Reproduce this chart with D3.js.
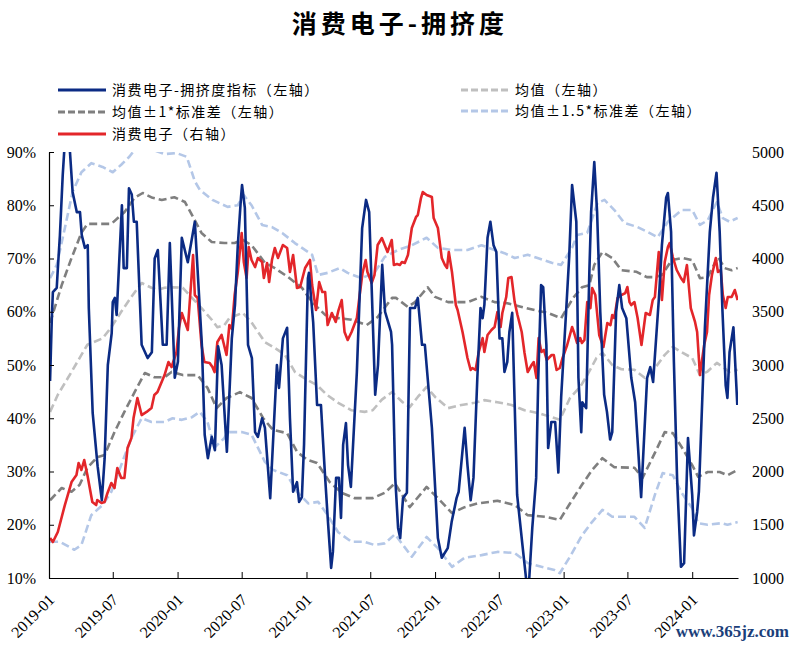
<!DOCTYPE html>
<head>
<meta charset="utf-8">
<style>
    body { margin: 0; background: #fff; }
    .legend text { font-family: "Noto Sans CJK SC", sans-serif; font-size: 14px; letter-spacing: 1.5px; fill: #000; }
</style>
<title>消费电子-拥挤度</title>
</head>
<body>
<script src="https://d3js.org/d3.v7.min.js"></script>
<script>
// 拥挤度指标 (左轴, %)
const crowding = [
 ["2019-01-04",47],["2019-01-09",58.8],["2019-01-12",63.7],["2019-01-23",64.5],["2019-01-26",68],["2019-02-01",74.4],
 ["2019-02-09",85.7],["2019-02-15",92],["2019-02-23",93],["2019-03-01",90.5],["2019-03-09",82.5],["2019-03-21",78.7],
 ["2019-03-30",78.7],["2019-04-04",74.4],["2019-04-13",72],["2019-04-21",72.5],["2019-04-24",60.7],["2019-05-05",41],
 ["2019-05-19",31],["2019-05-31",24.6],["2019-06-08",32.5],["2019-06-17",50],["2019-06-28",56],["2019-07-01",61.8],
 ["2019-07-07",62.6],["2019-07-12",59.4],["2019-07-27",80],["2019-08-01",68.2],["2019-08-10",68.2],["2019-08-16",83.2],
 ["2019-08-24",82],["2019-08-30",76.9],["2019-09-07",76.9],["2019-09-21",53.8],["2019-10-08",51.3],["2019-10-20",52.4],
 ["2019-10-28",70],["2019-11-06",71.6],["2019-11-20",53.8],["2019-12-01",53.8],["2019-12-10",72.9],["2019-12-24",47.6],
 ["2020-01-02",50.6],["2020-01-13",73.9],["2020-01-30",69.3],["2020-02-19",76.9],["2020-03-10",53.8],["2020-03-18",36.9],
 ["2020-03-27",32.5],["2020-04-07",36.5],["2020-04-16",34],["2020-04-25",53.5],["2020-05-05",50],["2020-05-20",33.7],
 ["2020-06-03",55],["2020-06-12",61.3],["2020-06-20",72.5],["2020-06-29",81.4],["2020-07-02",83.8],["2020-07-10",79.5],
 ["2020-07-19",53.8],["2020-07-30",51.3],["2020-08-08",37.4],["2020-08-16",36.5],["2020-08-28",40],["2020-09-05",38.2],
 ["2020-09-20",25],["2020-10-09",50],["2020-10-15",45.7],["2020-10-26",55],["2020-11-07",57],["2020-11-15",40],
 ["2020-11-24",26.2],["2020-12-05",28],["2020-12-11",24.3],["2020-12-19",25.2],["2020-12-25",35],["2021-01-05",66.3],
 ["2021-01-08",67.3],["2021-01-20",58],["2021-01-31",42.5],["2021-02-11",42.5],["2021-02-23",28.8],["2021-03-03",20.5],
 ["2021-03-12",11.9],["2021-03-17",14.9],["2021-03-26",28.8],["2021-04-03",28.8],["2021-04-09",21.3],["2021-04-15",35],
 ["2021-04-23",39.1],["2021-04-29",31.2],["2021-05-07",27.1],["2021-05-24",48.7],["2021-06-08",75.7],["2021-06-19",81],
 ["2021-06-28",78.7],["2021-07-06",62.6],["2021-07-15",44.4],["2021-07-23",50],["2021-08-04",68.8],["2021-08-12",60],
 ["2021-08-21",58],["2021-08-29",56.2],["2021-09-01",53.8],["2021-09-10",28.8],["2021-09-18",19.4],["2021-09-24",17.5],
 ["2021-10-02",25],["2021-10-13",26],["2021-10-22",60.7],["2021-11-05",60.7],["2021-11-13",62.6],["2021-11-25",53.8],
 ["2021-12-03",53.8],["2021-12-23",38.2],["2022-01-09",17.5],["2022-01-20",13.8],["2022-02-06",15.6],["2022-02-17",20.5],
 ["2022-03-03",25],["2022-03-09",26.2],["2022-03-26",38.2],["2022-04-03",31.2],["2022-04-12",24.6],["2022-04-20",28.8],
 ["2022-05-01",47.6],["2022-05-10",60.7],["2022-05-16",58.8],["2022-05-21",61.3],["2022-05-30",73.9],["2022-06-07",76.9],
 ["2022-06-16",72.5],["2022-06-24",71.2],["2022-07-03",55],["2022-07-11",55],["2022-07-17",48.7],["2022-07-25",50.6],
 ["2022-07-31",56.2],["2022-08-08",59.8],["2022-08-22",25.6],["2022-09-06",16.2],["2022-09-17",9.5],["2022-09-25",9.5],
 ["2022-10-04",19.4],["2022-10-15",28.8],["2022-10-21",47.6],["2022-10-29",65],["2022-11-04",64.6],["2022-11-13",53.8],
 ["2022-11-18",34.4],["2022-11-27",39.3],["2022-12-08",39.3],["2022-12-17",29.8],["2022-12-25",44],["2023-01-08",60],
 ["2023-01-17",70.6],["2023-01-25",83.8],["2023-02-06",76.9],["2023-02-12",47.6],["2023-02-20",37.4],["2023-02-23",43],
 ["2023-03-06",41.9],["2023-03-15",67.5],["2023-03-20",78.7],["2023-03-29",88.1],["2023-04-06",78.7],["2023-04-15",60],
 ["2023-04-26",44.4],["2023-05-04",41.2],["2023-05-13",36],["2023-05-19",37.4],["2023-05-30",60],["2023-06-08",65],
 ["2023-06-16",60.7],["2023-06-28",58.8],["2023-07-12",47.6],["2023-07-23",43],["2023-08-01",33.7],["2023-08-09",25.2],
 ["2023-08-26",47.6],["2023-09-04",49.6],["2023-09-12",46.8],["2023-09-29",63.1],["2023-10-07",72.5],["2023-10-19",81.4],
 ["2023-10-24",82.3],["2023-11-02",75],["2023-11-10",50.6],["2023-11-19",28.8],["2023-11-30",12.1],["2023-12-09",12.8],
 ["2023-12-20",36.3],["2024-01-01",25.6],["2024-01-06",18],["2024-01-15",22.4],["2024-01-20",26.2],["2024-02-06",57],
 ["2024-02-20",75],["2024-02-29",81.4],["2024-03-10",86.1],["2024-03-19",75],["2024-03-27",60],["2024-04-05",46.2],
 ["2024-04-10",43.8],["2024-04-16",52.4],["2024-04-27",57.1],["2024-05-08",42.5]
];

// 消费电子指数 (右轴)
const indexClose = [
 ["2019-01-04",1375],["2019-01-12",1338],["2019-01-26",1432],["2019-02-15",1685],["2019-03-06",1901],["2019-03-20",1967],
 ["2019-03-26",2080],["2019-04-03",2014],["2019-04-11",2108],["2019-04-20",1967],["2019-05-04",1714],["2019-05-15",1685],
 ["2019-05-18",1732],["2019-05-30",1704],["2019-06-08",1714],["2019-06-16",1798],["2019-06-27",1892],["2019-07-06",1845],
 ["2019-07-14",2033],["2019-07-25",1939],["2019-08-03",1939],["2019-08-12",2221],["2019-08-23",2314],["2019-08-29",2502],
 ["2019-09-09",2690],["2019-09-21",2530],["2019-10-05",2559],["2019-10-19",2596],["2019-10-27",2718],["2019-11-05",2746],
 ["2019-11-25",2906],["2019-12-06",3028],["2019-12-15",2981],["2019-12-29",3122],["2020-01-05",3347],["2020-01-13",3488],
 ["2020-01-22",3404],["2020-01-30",3329],["2020-02-14",4033],["2020-02-19",3657],["2020-02-27",3629],["2020-03-09",3188],
 ["2020-03-17",3028],["2020-04-01",3019],["2020-04-09",2981],["2020-04-15",2934],["2020-04-23",3216],["2020-05-05",3282],
 ["2020-05-19",3094],["2020-05-27",3375],["2020-06-03",3340],["2020-06-11",3657],["2020-06-20",3873],["2020-07-01",4239],
 ["2020-07-07",3967],["2020-07-15",3817],["2020-07-21",4108],["2020-07-29",3986],["2020-08-08",3920],["2020-08-16",4005],
 ["2020-08-28",3967],["2020-09-02",3817],["2020-09-11",3958],["2020-09-17",3779],["2020-09-25",3986],["2020-10-03",4099],
 ["2020-10-12",4005],["2020-10-26",4127],["2020-11-07",4099],["2020-11-15",3873],["2020-11-24",4033],["2020-12-05",3723],
 ["2020-12-14",3732],["2020-12-28",3911],["2021-01-11",3986],["2021-01-17",3751],["2021-01-28",3516],["2021-02-06",3779],
 ["2021-02-15",3685],["2021-02-23",3685],["2021-03-02",3375],["2021-03-14",3488],["2021-03-25",3404],["2021-04-02",3516],
 ["2021-04-11",3610],["2021-04-19",3310],["2021-04-28",3235],["2021-05-09",3310],["2021-05-24",3441],["2021-06-01",3657],
 ["2021-06-09",3864],["2021-06-18",3986],["2021-06-23",3873],["2021-07-05",3770],["2021-07-13",3845],["2021-07-22",4127],
 ["2021-08-03",4192],["2021-08-11",4127],["2021-08-19",4061],["2021-08-31",4174],["2021-09-06",3939],["2021-09-15",3948],
 ["2021-09-23",3939],["2021-09-29",3967],["2021-10-07",3958],["2021-10-16",4033],["2021-10-27",4286],["2021-11-08",4390],
 ["2021-11-13",4408],["2021-11-22",4568],["2021-11-27",4624],["2021-12-08",4596],["2021-12-23",4577],["2021-12-28",4380],
 ["2022-01-09",4286],["2022-01-20",4005],["2022-01-29",3939],["2022-02-04",3911],["2022-02-09",4061],["2022-02-18",3873],
 ["2022-03-01",3563],["2022-03-06",3516],["2022-03-20",3310],["2022-04-03",3066],["2022-04-12",2953],["2022-04-17",2972],
 ["2022-04-26",2953],["2022-05-05",3122],["2022-05-16",3253],["2022-05-21",3122],["2022-05-30",3282],["2022-06-10",3329],
 ["2022-06-19",3357],["2022-06-27",3498],["2022-07-06",3357],["2022-07-11",3488],["2022-07-22",3638],["2022-07-28",3817],
 ["2022-08-06",3826],["2022-08-15",3591],["2022-08-23",3470],["2022-09-04",3310],["2022-09-12",3113],["2022-09-21",2934],
 ["2022-10-02",3000],["2022-10-08",3028],["2022-10-16",2878],["2022-10-22",3253],["2022-10-30",3122],["2022-11-06",3141],
 ["2022-11-14",3047],["2022-11-28",3094],["2022-12-04",3094],["2022-12-12",2953],["2022-12-21",2972],["2022-12-29",3066],
 ["2023-01-11",3188],["2023-01-25",3357],["2023-01-31",3300],["2023-02-08",3207],["2023-02-17",3253],["2023-02-22",3207],
 ["2023-03-01",3235],["2023-03-09",3591],["2023-03-18",3535],["2023-03-23",3723],["2023-04-01",3657],["2023-04-12",3282],
 ["2023-04-24",3169],["2023-05-05",3394],["2023-05-14",3375],["2023-05-19",3470],["2023-05-25",3441],["2023-06-03",3629],
 ["2023-06-14",3657],["2023-06-25",3676],["2023-07-01",3732],["2023-07-07",3591],["2023-07-12",3563],["2023-07-21",3591],
 ["2023-07-30",3441],["2023-08-10",3188],["2023-08-22",3488],["2023-09-03",3470],["2023-09-11",3610],["2023-09-17",3638],
 ["2023-09-28",4061],["2023-10-07",3610],["2023-10-15",3967],["2023-10-24",4108],["2023-10-29",4145],["2023-11-07",4014],
 ["2023-11-18",3892],["2023-11-30",3817],["2023-12-08",3779],["2023-12-17",3939],["2023-12-28",3535],["2024-01-09",3404],
 ["2024-01-15",3310],["2024-01-23",2906],["2024-02-04",3188],["2024-02-12",3310],["2024-02-18",3657],["2024-02-26",3845],
 ["2024-03-08",4005],["2024-03-14",3873],["2024-03-22",3892],["2024-03-28",3657],["2024-04-05",3535],["2024-04-11",3638],
 ["2024-04-22",3638],["2024-05-01",3704],["2024-05-09",3610]
];

// 均值 (左轴, %)
const meanLine = [
 ["2019-01-04",41.2],["2019-01-26",44.4],["2019-03-06",48.7],["2019-04-03",51.9],["2019-04-20",53.8],["2019-06-02",55],
 ["2019-06-27",57.1],["2019-07-25",60],["2019-08-23",62.8],["2019-09-21",65.4],["2019-10-19",64.5],["2019-11-05",64.1],
 ["2019-11-25",64.5],["2019-12-18",64.6],["2020-01-16",64.5],["2020-02-11",62.6],["2020-03-09",60.7],["2020-04-07",58.5],
 ["2020-04-23",57.1],["2020-05-13",57.5],["2020-05-27",58.8],["2020-07-04",59.8],["2020-07-29",58],["2020-09-05",54.3],
 ["2020-10-03",53.2],["2020-11-01",51.9],["2020-11-29",48.7],["2021-01-03",47.2],["2021-01-31",46.2],["2021-02-28",44.4],
 ["2021-04-01",42.9],["2021-05-09",41.5],["2021-06-15",41.2],["2021-07-08",41.5],["2021-08-03",43.5],["2021-09-01",44.9],
 ["2021-10-01",43],["2021-10-21",42.1],["2021-11-13",44],["2021-12-08",45.9],["2022-01-01",44],["2022-02-07",41.9],
 ["2022-03-17",42.5],["2022-04-24",42.9],["2022-05-21",43.4],["2022-06-27",43],["2022-08-06",42.5],["2022-09-12",41.5],
 ["2022-10-19",41],["2022-11-28",40.2],["2022-12-21",39.7],["2023-01-19",43.8],["2023-02-17",45.9],["2023-03-09",48.1],
 ["2023-04-04",51.3],["2023-04-21",52.3],["2023-05-19",50],["2023-06-14",49.2],["2023-07-21",49.1],["2023-08-19",47.6],
 ["2023-09-17",49.4],["2023-10-15",51.9],["2023-11-07",53.4],["2023-12-02",52.4],["2024-01-01",51.3],["2024-01-23",48.1],
 ["2024-02-12",48.7],["2024-03-11",50.4],["2024-04-02",49.4],["2024-04-16",48.7],["2024-05-09",49.1]
];

// 均值 ± 1*标准差
const upper1 = [
 ["2019-01-04",57.9],["2019-02-06",65],["2019-03-06",70.1],["2019-04-03",74.8],["2019-04-20",76.5],["2019-06-27",76.5],
 ["2019-08-03",78.7],["2019-09-01",81.4],["2019-09-24",82.3],["2019-10-22",81.4],["2019-11-17",81],["2019-12-23",81.5],
 ["2020-01-22",80.6],["2020-02-14",77.8],["2020-03-09",74.8],["2020-04-07",73.1],["2020-05-13",72.9],["2020-06-11",72.9],
 ["2020-07-04",73.5],["2020-07-29",72.5],["2020-09-05",69.2],["2020-10-03",68.2],["2020-11-10",66.5],["2020-12-19",64.5],
 ["2021-01-17",61.8],["2021-02-23",59.4],["2021-04-01",58.8],["2021-05-09",58.5],["2021-06-21",57.5],["2021-07-22",59],
 ["2021-09-01",62.6],["2021-09-12",62.6],["2021-10-16",60.9],["2021-11-05",61.8],["2021-12-11",64.6],["2022-01-01",62.8],
 ["2022-02-07",61.8],["2022-04-03",61.8],["2022-05-13",62.8],["2022-06-19",61.8],["2022-07-25",61.6],["2022-09-04",60.9],
 ["2022-10-11",60.3],["2022-11-16",59.8],["2022-12-25",58.8],["2023-01-28",62.6],["2023-02-22",64.6],["2023-03-15",65],
 ["2023-03-29",68.8],["2023-04-21",71.2],["2023-05-19",70.1],["2023-06-14",67.8],["2023-07-27",67.5],["2023-08-25",66.5],
 ["2023-09-17",66.5],["2023-10-07",66.9],["2023-11-04",69.7],["2023-12-05",70.1],["2024-01-01",69.7],["2024-01-23",66.3],
 ["2024-02-14",66.5],["2024-03-14",70.3],["2024-04-02",68.2],["2024-04-22",67.8],["2024-05-09",68.2]
];
const lower1 = [
 ["2019-01-04",24.6],["2019-02-06",26.9],["2019-03-06",26.2],["2019-03-29",27.5],["2019-04-20",30.7],["2019-05-18",32.7],
 ["2019-06-08",33.1],["2019-07-06",37.4],["2019-08-03",41.2],["2019-09-01",44.9],["2019-09-30",48.5],["2019-10-27",47.7],
 ["2019-11-25",47.7],["2019-12-15",48.7],["2020-01-16",48.1],["2020-02-27",48.1],["2020-03-26",45.7],["2020-04-21",41.9],
 ["2020-05-19",43.8],["2020-06-26",44.9],["2020-07-29",43.8],["2020-08-31",40],["2020-09-28",37.8],["2020-11-07",37.2],
 ["2020-12-05",33.7],["2021-01-03",32.2],["2021-01-31",31.6],["2021-03-08",28],["2021-04-11",26],["2021-05-17",25],
 ["2021-07-08",25],["2021-08-11",26],["2021-09-09",27.8],["2021-10-21",23.3],["2021-12-08",27.1],["2022-01-09",25],
 ["2022-02-18",22.2],["2022-03-26",23.3],["2022-05-02",24],["2022-06-27",24.5],["2022-08-15",23.7],["2022-09-21",21.8],
 ["2022-11-09",21.5],["2022-12-21",20.9],["2023-01-19",24],["2023-02-22",27.5],["2023-03-23",30.3],["2023-04-21",32.5],
 ["2023-05-25",30.8],["2023-07-21",30.7],["2023-08-13",28.8],["2023-09-17",33.5],["2023-10-15",37.4],["2023-11-07",37.2],
 ["2023-12-02",34.6],["2024-01-01",31.2],["2024-01-18",29],["2024-02-14",29.9],["2024-03-19",29.9],["2024-04-10",29.3],
 ["2024-05-09",30.3]
];

// 均值 ± 1.5*标准差
const upper15 = [
 ["2019-01-04",66.3],["2019-01-23",68.8],["2019-02-15",75.7],["2019-03-09",82.5],["2019-04-03",86.2],["2019-05-01",87.9],
 ["2019-06-02",87.2],["2019-07-01",86.2],["2019-07-25",87.6],["2019-08-17",89.1],["2019-09-06",90.8],["2019-09-30",91.5],
 ["2019-10-27",90.3],["2019-11-25",89.6],["2019-12-29",89.8],["2020-01-27",89.1],["2020-02-19",84.5],["2020-03-04",82.9],
 ["2020-04-09",81],["2020-05-22",79.7],["2020-06-20",80],["2020-07-07",81.9],["2020-07-29",80],["2020-08-28",76.3],
 ["2020-09-25",75.9],["2020-10-24",74.8],["2020-11-29",72.9],["2021-01-17",70.7],["2021-02-03",66.9],["2021-03-02",67.3],
 ["2021-04-05",68.2],["2021-04-28",67.3],["2021-06-06",66.3],["2021-07-13",67.3],["2021-08-11",70.3],["2021-09-18",71.6],
 ["2021-10-27",72.5],["2021-12-08",73.9],["2022-01-09",72],["2022-02-18",71.6],["2022-04-03",71.6],["2022-05-13",72.5],
 ["2022-06-19",71.6],["2022-07-17",71],["2022-08-15",70.1],["2022-09-21",70.7],["2022-10-19",70.1],["2022-11-28",69.2],
 ["2022-12-25",68.8],["2023-01-25",72],["2023-02-08",74.4],["2023-03-09",74.8],["2023-04-07",80.4],["2023-04-27",81],
 ["2023-05-25",79.1],["2023-06-22",76.7],["2023-07-30",75.9],["2023-08-27",75],["2023-09-25",74],["2023-10-24",76.9],
 ["2023-12-02",79.1],["2024-01-01",79.1],["2024-01-23",76.3],["2024-02-14",77.2],["2024-03-11",80.6],["2024-03-28",77.6],
 ["2024-04-16",76.9],["2024-05-09",77.6]
];
const lower15 = [
 ["2019-01-04",16.8],["2019-02-01",16.8],["2019-03-14",15.3],["2019-04-03",16.2],["2019-05-01",21.8],["2019-06-02",23.7],
 ["2019-06-27",26.2],["2019-07-25",31.2],["2019-08-23",36.3],["2019-09-21",40],["2019-10-19",39.3],["2019-11-25",39.3],
 ["2019-12-18",40],["2020-01-13",39.7],["2020-02-11",40.2],["2020-03-04",41.2],["2020-03-26",39.3],["2020-04-15",34.5],
 ["2020-05-13",36.3],["2020-05-22",37.4],["2020-07-01",37.4],["2020-07-29",36.9],["2020-09-05",31.8],["2020-09-28",30.3],
 ["2020-11-07",29.3],["2020-12-05",26.2],["2021-01-06",24],["2021-02-03",24.3],["2021-03-02",21.8],["2021-04-01",18.6],
 ["2021-05-09",16.8],["2021-06-15",16.8],["2021-07-13",16.2],["2021-08-11",16.5],["2021-09-09",18.2],["2021-10-27",14],
 ["2021-12-08",17.7],["2022-01-09",15.6],["2022-02-18",12.1],["2022-03-26",13.8],["2022-05-13",14.3],["2022-06-27",14.9],
 ["2022-08-15",14.7],["2022-09-21",12.8],["2022-10-30",12.1],["2022-12-06",11.5],["2022-12-21",10.9],["2023-01-19",14],
 ["2023-02-22",18],["2023-03-20",20.3],["2023-04-21",22.8],["2023-05-19",21.5],["2023-07-21",21.5],["2023-08-19",19.4],
 ["2023-09-17",25.6],["2023-10-09",29.7],["2023-11-07",29.3],["2023-12-02",26],["2024-01-01",23.1],["2024-01-18",20.3],
 ["2024-02-14",20],["2024-03-25",20.3],["2024-04-10",20],["2024-05-09",20.5]
];

const xTickLabels = ["2019-01","2019-07","2020-01","2020-07","2021-01","2021-07","2022-01","2022-07","2023-01","2023-07","2024-01"];
const leftTicks = [10, 20, 30, 40, 50, 60, 70, 80, 90];
const rightTicks = [1000, 1500, 2000, 2500, 3000, 3500, 4000, 4500, 5000];

const W = 796, H = 647;
const margin = { top: 152, right: 58, bottom: 69, left: 49 };
const width = W - margin.left - margin.right;
const height = H - margin.top - margin.bottom;
const tickFont = '"Liberation Serif", "Times New Roman", serif';

const parseDay = d3.timeParse('%Y-%m-%d');
const parseMonth = d3.timeParse('%Y-%m');

const x = d3.scaleTime()
    .domain([parseDay('2019-01-01'), parseDay('2024-05-10')])
    .range([0, width]);
const yL = d3.scaleLinear().domain([10, 90]).range([height, 0]);
const yR = d3.scaleLinear().domain([1000, 5000]).range([height, 0]);

const svg = d3.select('body').append('svg')
    .attr('width', W)
    .attr('height', H);

svg.append('text')
    .attr('x', W / 2 + 2)
    .attr('y', 33)
    .attr('text-anchor', 'middle')
    .attr('font-family', '"Noto Sans CJK SC", sans-serif')
    .attr('font-weight', 'bold')
    .attr('font-size', '25px')
    .attr('letter-spacing', '4px')
    .text('消费电子-拥挤度');

const group = svg.append('g')
    .attr('transform', `translate(${margin.left},${margin.top})`);

group.append('clipPath').attr('id', 'plot-clip')
  .append('rect')
    .attr('x', 0).attr('y', 0)
    .attr('width', width).attr('height', height);

const lineL = d3.line()
    .x(d => x(parseDay(d[0])))
    .y(d => yL(d[1]));
const lineR = d3.line()
    .x(d => x(parseDay(d[0])))
    .y(d => yR(d[1]));

const series = [
    { data: upper15, line: lineL, color: '#b4c7e7', dash: '8,4' },
    { data: lower15, line: lineL, color: '#b4c7e7', dash: '8,4' },
    { data: meanLine, line: lineL, color: '#bfbfbf', dash: '8,4' },
    { data: upper1, line: lineL, color: '#7f7f7f', dash: '8,4' },
    { data: lower1, line: lineL, color: '#7f7f7f', dash: '8,4' },
    { data: indexClose, line: lineR, color: '#e3262a', dash: null },
    { data: crowding, line: lineL, color: '#0b2b84', dash: null }
];

const plot = group.append('g').attr('clip-path', 'url(#plot-clip)');
series.forEach(s => {
    plot.append('path')
        .datum(s.data)
        .attr('fill', 'none')
        .attr('stroke', s.color)
        .attr('stroke-width', 2.6)
        .attr('stroke-linejoin', 'round')
        .attr('stroke-dasharray', s.dash)
        .attr('d', s.line);
});

// axes
const xAxis = group.append('g')
    .attr('transform', `translate(0,${height})`)
    .call(d3.axisBottom(x)
        .tickValues(xTickLabels.map(parseMonth))
        .tickFormat(d3.timeFormat('%Y-%m'))
        .tickSizeInner(-6)
        .tickSizeOuter(0));
xAxis.attr('font-family', tickFont).attr('font-size', 16);
xAxis.selectAll('.tick text')
    .attr('fill', '#000')
    .attr('text-anchor', 'end')
    .attr('transform', 'translate(2,19) rotate(-45)')
    .attr('dy', '0.35em')
    .attr('y', 0).attr('x', 0);
xAxis.select('.domain').attr('stroke', '#000').attr('stroke-width', 1.2);

const leftAxis = group.append('g')
    .call(d3.axisLeft(yL)
        .tickValues(leftTicks)
        .tickFormat(d => d + '%')
        .tickSizeInner(-5)
        .tickSizeOuter(0)
        .tickPadding(13));
leftAxis.attr('font-family', tickFont).attr('font-size', 16);
leftAxis.selectAll('.tick text').attr('fill', '#000');
leftAxis.select('.domain').attr('stroke', '#000').attr('stroke-width', 1.2);

const rightAxis = group.append('g')
    .attr('transform', `translate(${width},0)`)
    .call(d3.axisRight(yR)
        .tickValues(rightTicks)
        .tickFormat(d3.format('d'))
        .tickSize(0)
        .tickPadding(14));
rightAxis.attr('font-family', tickFont).attr('font-size', 16);
rightAxis.selectAll('.tick text').attr('fill', '#000');
rightAxis.select('.domain').remove();

// legend
const legendItems = [
    { label: '消费电子-拥挤度指标（左轴）', color: '#0b2b84', dash: null, x: 58, y: 90 },
    { label: '均值（左轴）', color: '#bfbfbf', dash: '7,3', x: 461, y: 90 },
    { label: '均值±1*标准差（左轴）', color: '#7f7f7f', dash: '7,3', x: 58, y: 112 },
    { label: '均值±1.5*标准差（左轴）', color: '#b4c7e7', dash: '7,3', x: 461, y: 111 },
    { label: '消费电子（右轴）', color: '#e3262a', dash: null, x: 58, y: 134 }
];
const legend = svg.append('g').attr('class', 'legend');
legendItems.forEach(it => {
    legend.append('line')
        .attr('x1', it.x).attr('x2', it.x + 48)
        .attr('y1', it.y).attr('y2', it.y)
        .attr('stroke', it.color)
        .attr('stroke-width', 3)
        .attr('stroke-dasharray', it.dash);
    legend.append('text')
        .attr('x', it.x + 54)
        .attr('y', it.y)
        .attr('dy', '0.35em')
        .text(it.label);
});

svg.append('text')
    .attr('x', 789)
    .attr('y', 637)
    .attr('text-anchor', 'end')
    .attr('font-family', tickFont)
    .attr('font-weight', 'bold')
    .attr('font-size', '17px')
    .attr('fill', '#1c3f7a')
    .text('www.365jz.com');
</script>
</body>
